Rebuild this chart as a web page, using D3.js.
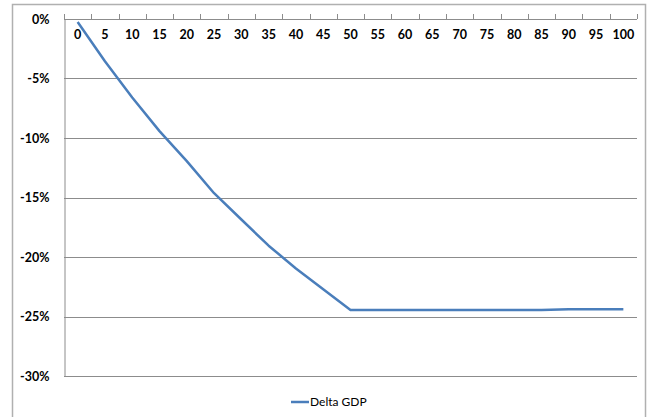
<!DOCTYPE html>
<html>
<head>
<meta charset="utf-8">
<script src="https://cdn.jsdelivr.net/npm/d3@7"></script>
<style>
  html, body { margin: 0; padding: 0; background: #ffffff; }
  svg { display: block; }
  text { font-family: Lato, "Open Sans", "Liberation Sans", sans-serif; }
</style>
</head>
<body>
<div id="chart"></div>
<script>
// Years of the scenario (category axis)
const categories = ["0","5","10","15","20","25","30","35","40","45","50",
                    "55","60","65","70","75","80","85","90","95","100"];
// Change in GDP relative to baseline, in percent
const deltaGDP = [-0.25, -3.55, -6.6, -9.42, -11.94, -14.64, -16.85, -19.05, -20.96, -22.7, -24.45,
                  -24.45, -24.45, -24.45, -24.45, -24.45, -24.45, -24.45, -24.39, -24.39, -24.39];
const seriesName = "Delta GDP";
const yTicks = [0, -5, -10, -15, -20, -25, -30];

const W = 653, H = 417;
const plot = { left: 64, right: 637, top: 19, bottom: 376 };

const svg = d3.select("#chart").append("svg")
  .attr("width", W).attr("height", H);

// Chart area frame
svg.append("rect")
  .attr("x", 12.5).attr("y", 4.5)
  .attr("width", 633).attr("height", 430)
  .attr("fill", "#ffffff")
  .attr("stroke", "#b0b0b0").attr("stroke-width", 1.5);

const x = d3.scaleBand().domain(categories).range([plot.left, plot.right]).padding(0);
const y = d3.scaleLinear().domain([-30, 0]).range([plot.bottom, plot.top]);

// Horizontal gridlines
svg.append("g")
  .selectAll("line")
  .data(yTicks)
  .join("line")
  .attr("x1", plot.left).attr("x2", plot.right)
  .attr("y1", d => Math.round(y(d)) + 0.5).attr("y2", d => Math.round(y(d)) + 0.5)
  .attr("stroke", "#8c8c8c").attr("stroke-width", 1);

// Vertical value axis
const yAxis = svg.append("g")
  .attr("transform", `translate(${plot.left + 0.5},0)`)
  .call(d3.axisLeft(y).tickValues(yTicks).tickSize(0).tickPadding(15)
    .tickFormat(d => d + "%"));
yAxis.select(".domain").attr("stroke", "#8c8c8c");
yAxis.selectAll("text")
  .attr("font-size", "12.5px").attr("font-weight", "bold")
  .attr("fill", "#000").style("font-family", "Lato, 'Open Sans', sans-serif");

// Category axis along the zero line: ticks point up, labels sit below the line
const bandEdges = categories.map(c => x(c)).concat([plot.right]);
svg.append("g")
  .selectAll("line")
  .data(bandEdges)
  .join("line")
  .attr("x1", d => Math.round(d) + 0.5).attr("x2", d => Math.round(d) + 0.5)
  .attr("y1", y(0) - 5).attr("y2", y(0))
  .attr("stroke", "#8c8c8c").attr("stroke-width", 1);

svg.append("g")
  .selectAll("text")
  .data(categories)
  .join("text")
  .attr("x", d => x(d) + x.bandwidth() / 2)
  .attr("y", y(0) + 20)
  .attr("text-anchor", "middle")
  .attr("font-size", "12.5px").attr("font-weight", "bold")
  .attr("fill", "#000")
  .text(d => d);

// Series line
const line = d3.line()
  .x((d, i) => x(categories[i]) + x.bandwidth() / 2)
  .y(d => y(d));

svg.append("path")
  .datum(deltaGDP)
  .attr("d", line)
  .attr("fill", "none")
  .attr("stroke", "#4a7ebb")
  .attr("stroke-width", 2.5)
  .attr("stroke-linejoin", "round");

// Legend
const legend = svg.append("g").attr("transform", "translate(291,402)");
legend.append("line")
  .attr("x1", 0).attr("x2", 18).attr("y1", 0).attr("y2", 0)
  .attr("stroke", "#4a7ebb").attr("stroke-width", 2.5);
legend.append("text")
  .attr("x", 19).attr("y", 4)
  .attr("font-size", "12px").attr("fill", "#000")
  .text(seriesName);
</script>
</body>
</html>
